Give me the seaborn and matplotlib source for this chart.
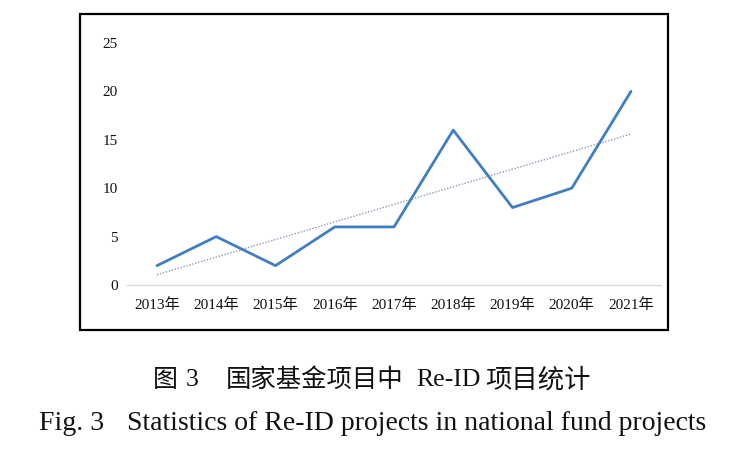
import numpy as np
import pandas as pd
import matplotlib
matplotlib.use("Agg")
import matplotlib.pyplot as plt
from matplotlib.patches import Rectangle
import seaborn as sns

years = ["2013年", "2014年", "2015年", "2016年", "2017年", "2018年", "2019年", "2020年", "2021年"]
counts = [2, 5, 2, 6, 6, 16, 8, 10, 20]
yticks = [0, 5, 10, 15, 20, 25]
caption_cn = ["图", "3", "国家基金项目中", "Re-ID", "项目统计"]
caption_en = ["Fig. 3", "Statistics of Re-ID projects in national fund projects"]

sns.set_theme(style="white")
FAM = ["Liberation Serif", "Noto Sans CJK SC"]
CJK = ["Noto Sans CJK SC", "Liberation Serif"]
plt.rcParams["font.family"] = FAM

fig = plt.figure(figsize=(7.52, 4.51), dpi=100)
W, H = 752, 451
ax = fig.add_axes([127.4 / W, 1 - 285 / H, 533.2 / W, 242 / H])

df = pd.DataFrame({"pos": np.arange(len(years)), "year": years, "count": counts})
sns.regplot(data=df, x="pos", y="count", scatter=False, ci=None, ax=ax,
            line_kws=dict(color="#8a9bb5", lw=1.0, ls=(0, (1, 1.2))))
sns.lineplot(data=df, x="pos", y="count", ax=ax, color="#3f7fc1", lw=2.0)

ax.set_xlim(-0.5, len(years) - 0.5)
ax.set_ylim(0, 25)
ax.set_xticks(df["pos"])
ax.set_xticklabels(years, fontsize=11, family=FAM, color="#111111")
ax.set_yticks(yticks)
ax.set_yticklabels([str(v) for v in yticks], fontsize=11, family=FAM, color="#111111")
ax.tick_params(axis="both", length=0)
ax.tick_params(axis="x", pad=9.5)
ax.tick_params(axis="y", pad=7)
ax.set_xlabel("")
ax.set_ylabel("")
for s in ["top", "right", "left"]:
    ax.spines[s].set_visible(False)
ax.spines["bottom"].set_color("#d9d9d9")
ax.spines["bottom"].set_linewidth(1.0)
ax.grid(False)

fig.patches.append(Rectangle((80 / W, 1 - 330 / H), 588 / W, 316 / H,
                             transform=fig.transFigure, fill=False,
                             edgecolor="black", lw=1.6))

# caption line 1 (pieces placed at their left edges)
y1 = 1 - 380 / H
pieces1 = [(caption_cn[0], 153, CJK, 18),
           (caption_cn[1], 186, FAM, 18.5),
           (caption_cn[2], 226, CJK, 18.3),
           (caption_cn[3], 416, FAM, 18.5),
           (caption_cn[4], 485, CJK, 19)]
for txt, x0, fam, fs in pieces1:
    fig.text(x0 / W, y1, txt, ha="left", va="center", fontsize=fs, family=fam,
             color="#111111")

# caption line 2
y2 = 1 - 423 / H
fig.text(39 / W, y2, caption_en[0], ha="left", va="center", fontsize=20,
         family=FAM, color="#111111")
fig.text(127 / W, y2, caption_en[1], ha="left", va="center", fontsize=20,
         family=FAM, color="#111111")

fig.savefig("out.png", dpi=100)
